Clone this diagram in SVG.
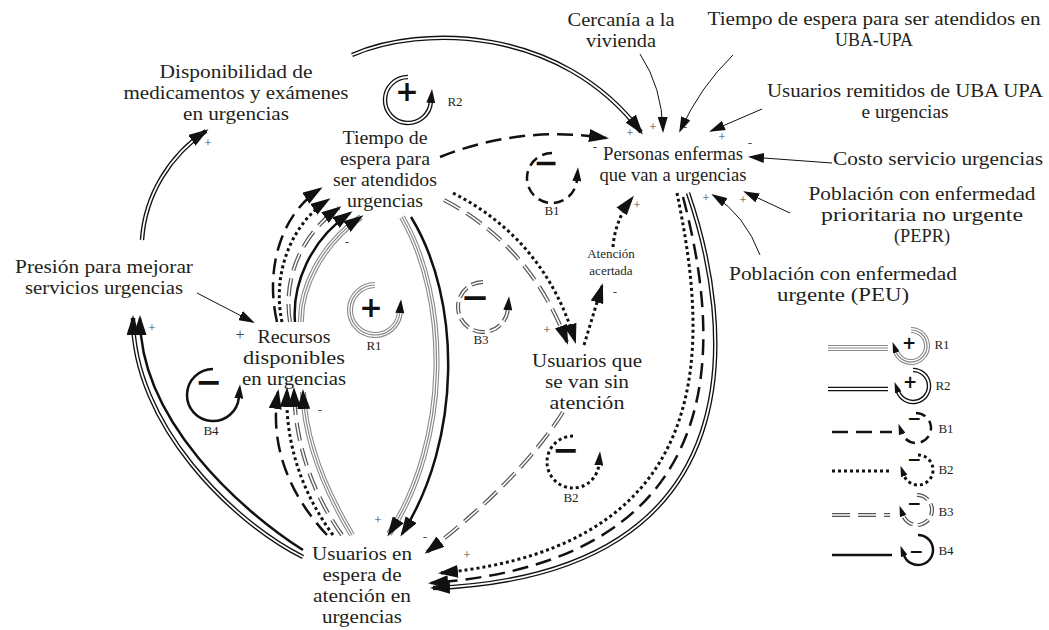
<svg xmlns="http://www.w3.org/2000/svg" width="1049" height="630" viewBox="0 0 1049 630">
<style>
.t{font-family:"Liberation Serif",serif;fill:#231f20;text-anchor:middle;font-size:18.9px}
.f13{font-size:13px}
.pol{font-family:"Liberation Serif",serif;font-size:13px;fill:#444;text-anchor:middle}
.sg{font-family:"DejaVu Sans",sans-serif;font-weight:bold;text-anchor:middle;dominant-baseline:central;fill:#111}
.ln{fill:none}
.r2o{stroke:#111;stroke-width:4.5}
.r2i{stroke:#fff;stroke-width:1.8}
.r1o{stroke:#888;stroke-width:6}
.r1m{stroke:#fff;stroke-width:3.8}
.r1i{stroke:#888;stroke-width:1.2}
.b3o{stroke:#555;stroke-width:4;stroke-dasharray:18 8}
.b3i{stroke:#fff;stroke-width:1.6;stroke-dasharray:18 8}
.b1{stroke:#111;stroke-width:2.5;stroke-dasharray:16 8}
.b2{stroke:#111;stroke-width:3;stroke-dasharray:3 3}
.b4{stroke:#111;stroke-width:2.5}
.ex{stroke:#111;stroke-width:1}
.ld1{stroke-dasharray:10 6}
.ld3{stroke-dasharray:12 5}
</style>
<defs>
<marker id="ah" markerUnits="userSpaceOnUse" markerWidth="20" markerHeight="13" viewBox="0 0 20 13" refX="17" refY="6.5" orient="auto"><path d="M0,0 L20,6.5 L0,13 z" fill="#111"/></marker>
<marker id="as" markerUnits="userSpaceOnUse" markerWidth="16" markerHeight="10" viewBox="0 0 16 10" refX="14" refY="5" orient="auto"><path d="M0,0 L16,5 L0,10 z" fill="#111"/></marker>
<marker id="al" markerUnits="userSpaceOnUse" markerWidth="14" markerHeight="9" viewBox="0 0 14 9" refX="1" refY="4.5" orient="auto"><path d="M0,0 L14,4.5 L0,9 z" fill="#111"/></marker>
<marker id="alg" markerUnits="userSpaceOnUse" markerWidth="11" markerHeight="7" viewBox="0 0 11 7" refX="1" refY="3.5" orient="auto"><path d="M0,0 L11,3.5 L0,7 z" fill="#111"/></marker>
<path id="e1" d="M197,293 L253,322"/>
<path id="e2" d="M640,54 Q662,87 663,131"/>
<path id="e3" d="M733,55 Q700,87 680,131"/>
<path id="e4" d="M762,109 L711,131"/>
<path id="e5" d="M832,163 L750,157"/>
<path id="e6" d="M790,213 L745,192"/>
<path id="e7" d="M760,255 Q745,215 713,195"/>
<path id="c1" d="M142,240 C145,195 170,155 206,131"/>
<path id="c2" d="M352,55 C420,25 560,25 641,132"/>
<path id="c3" d="M440,157 Q520,125 606,138"/>
<path id="c4" d="M453,193 Q545,240 575,341"/>
<path id="c5" d="M444,200 Q530,245 567,342"/>
<path id="c6" d="M584,345 L602,286"/>
<path id="c7" d="M613,247 Q615,220 632,198"/>
<path id="c8" d="M563,412 Q520,480 427,552"/>
<path id="c9" d="M677,193 C705,330 730,545 441,573"/>
<path id="c10" d="M683,197 C718,330 745,560 431,583"/>
<path id="c11" d="M688,193 C732,320 765,575 433,588"/>
<path id="c12" d="M402,217 C450,300 450,440 389,534"/>
<path id="c13" d="M411,217 C462,300 462,440 402,534"/>
<path id="c14" d="M277,322 C265,270 280,215 320,189"/>
<path id="c15" d="M282,322 C272,275 290,225 328,200"/>
<path id="c16" d="M290,322 C283,280 300,235 339,208"/>
<path id="c17" d="M295,322 C292,285 310,240 350,213"/>
<path id="c18" d="M301,322 C300,290 320,245 361,217"/>
<path id="c19" d="M327,535 C285,490 270,440 278,392"/>
<path id="c20" d="M333,535 C300,490 285,440 287,390"/>
<path id="c21" d="M342,535 C310,490 295,440 294,390"/>
<path id="c22" d="M352,535 C325,490 305,440 303,392"/>
<path id="c23" d="M303,550 C240,510 140,420 140,318"/>
<path id="c24" d="M303,557 C233,522 133,425 133,318"/>
<path id="lR2" d="M408,77 A23,23 0 1 0 430.9,102"/>
<path id="lR1" d="M375,285 A25,25 0 1 0 399.9,312.2"/>
<path id="lB1" d="M552,153 A25,25 0 1 0 576.9,180.2"/>
<path id="lB3" d="M483,282 A25,25 0 1 0 507.9,309.2"/>
<path id="lB4" d="M213,369 A26,26 0 1 0 238.9,397.3"/>
<path id="lB2" d="M573,436 A26,26 0 1 0 598.9,464.3"/>
<path id="gR1" d="M911,330 A16,16 0 1 1 896,351.5"/>
<path id="gR2" d="M913,370 A16,16 0 1 1 898,391.5"/>
<path id="gB1" d="M916,413 A15,15 0 1 1 901.9,433.1"/>
<path id="gB2" d="M918,455 A15,15 0 1 1 903.9,475.1"/>
<path id="gB3" d="M917,495 A15,15 0 1 1 902.9,515.1"/>
<path id="gB4" d="M918,535 A15,15 0 1 1 903.9,555.1"/>
</defs>
<rect width="1049" height="630" fill="#fff"/>

<g id="connectors">
<use href="#e1" class="ln ex" marker-end="url(#as)"/>
<use href="#e2" class="ln ex" marker-end="url(#as)"/>
<use href="#e3" class="ln ex" marker-end="url(#as)"/>
<use href="#e4" class="ln ex" marker-end="url(#as)"/>
<use href="#e5" class="ln ex" marker-end="url(#as)"/>
<use href="#e6" class="ln ex" marker-end="url(#as)"/>
<use href="#e7" class="ln ex" marker-end="url(#as)"/>
<use href="#c1" class="ln r2o"/><use href="#c1" class="ln r2i" marker-end="url(#ah)"/>
<use href="#c2" class="ln r2o"/><use href="#c2" class="ln r2i" marker-end="url(#ah)"/>
<use href="#c3" class="ln b1" marker-end="url(#ah)"/>
<use href="#c4" class="ln b2" marker-end="url(#ah)"/>
<use href="#c5" class="ln b3o"/><use href="#c5" class="ln b3i" marker-end="url(#ah)"/>
<use href="#c6" class="ln b2" marker-end="url(#ah)"/>
<use href="#c7" class="ln b2" marker-end="url(#ah)"/>
<use href="#c8" class="ln b3o"/><use href="#c8" class="ln b3i" marker-end="url(#ah)"/>
<use href="#c9" class="ln b2" marker-end="url(#ah)"/>
<use href="#c10" class="ln b1" marker-end="url(#ah)"/>
<use href="#c11" class="ln r2o"/><use href="#c11" class="ln r2i" marker-end="url(#ah)"/>
<use href="#c12" class="ln r1o"/><use href="#c12" class="ln r1m"/><use href="#c12" class="ln r1i" marker-end="url(#ah)"/>
<use href="#c13" class="ln b4" marker-end="url(#ah)"/>
<use href="#c14" class="ln b1" marker-end="url(#ah)"/>
<use href="#c15" class="ln b2" marker-end="url(#ah)"/>
<use href="#c16" class="ln b3o"/><use href="#c16" class="ln b3i" marker-end="url(#ah)"/>
<use href="#c17" class="ln b4" marker-end="url(#ah)"/>
<use href="#c18" class="ln r1o"/><use href="#c18" class="ln r1m"/><use href="#c18" class="ln r1i" marker-end="url(#ah)"/>
<use href="#c19" class="ln b1" marker-end="url(#ah)"/>
<use href="#c20" class="ln b2" marker-end="url(#ah)"/>
<use href="#c21" class="ln b3o"/><use href="#c21" class="ln b3i" marker-end="url(#ah)"/>
<use href="#c22" class="ln r1o"/><use href="#c22" class="ln r1m"/><use href="#c22" class="ln r1i" marker-end="url(#ah)"/>
<use href="#c23" class="ln b4" marker-end="url(#ah)"/>
<use href="#c24" class="ln r2o"/><use href="#c24" class="ln r2i" marker-end="url(#ah)"/>
</g>

<g id="polarities" opacity="0.99">
<text class="pol" x="208" y="147">+</text>
<text class="pol" x="630" y="137">+</text>
<text class="pol" x="653" y="131">+</text>
<text class="pol" x="685" y="131">-</text>
<text class="pol" x="722" y="141">+</text>
<text class="pol" x="750" y="147">-</text>
<text class="pol" x="743" y="204">+</text>
<text class="pol" x="706" y="202">+</text>
<text class="pol" x="595" y="151">-</text>
<text class="pol" x="637" y="209">+</text>
<text class="pol" x="615" y="296">-</text>
<text class="pol" x="547" y="334">+</text>
<text class="pol" x="425" y="541">-</text>
<text class="pol" x="467" y="559">+</text>
<text class="pol" x="378" y="524">+</text>
<text class="pol" x="320" y="414">-</text>
<text class="pol" x="347" y="246">-</text>
<text class="pol" x="152" y="332">+</text>
<text class="pol" x="240" y="340" style="font-size:16px">+</text>
</g>

<g id="node-disponibilidad">
<text class="t" x="236" y="78" textLength="153" lengthAdjust="spacingAndGlyphs">Disponibilidad de</text>
<text class="t" x="236" y="99" textLength="225" lengthAdjust="spacingAndGlyphs">medicamentos y exámenes</text>
<text class="t" x="236" y="120" textLength="106" lengthAdjust="spacingAndGlyphs">en urgencias</text>
</g>
<g id="node-presion">
<text class="t" x="104" y="273" textLength="178" lengthAdjust="spacingAndGlyphs">Presión para mejorar</text>
<text class="t" x="104" y="294" textLength="158" lengthAdjust="spacingAndGlyphs">servicios urgencias</text>
</g>
<g id="node-tiempo">
<text class="t" x="385" y="144" textLength="85" lengthAdjust="spacingAndGlyphs">Tiempo de</text>
<text class="t" x="385" y="165" textLength="90" lengthAdjust="spacingAndGlyphs">espera para</text>
<text class="t" x="385" y="186" textLength="104" lengthAdjust="spacingAndGlyphs">ser atendidos</text>
<text class="t" x="385" y="207" textLength="76" lengthAdjust="spacingAndGlyphs">urgencias</text>
</g>
<g id="node-personas">
<text class="t" x="673" y="160" textLength="140" lengthAdjust="spacingAndGlyphs">Personas enfermas</text>
<text class="t" x="673" y="181" textLength="147" lengthAdjust="spacingAndGlyphs">que van a urgencias</text>
</g>
<g id="node-recursos">
<text class="t" x="294" y="343" textLength="73" lengthAdjust="spacingAndGlyphs">Recursos</text>
<text class="t" x="294" y="364" textLength="102" lengthAdjust="spacingAndGlyphs">disponibles</text>
<text class="t" x="294" y="385" textLength="104" lengthAdjust="spacingAndGlyphs">en urgencias</text>
</g>
<g id="node-usuarios-sin-atencion">
<text class="t" x="587" y="367" textLength="110" lengthAdjust="spacingAndGlyphs">Usuarios que</text>
<text class="t" x="587" y="388" textLength="84" lengthAdjust="spacingAndGlyphs">se van sin</text>
<text class="t" x="587" y="409" textLength="75" lengthAdjust="spacingAndGlyphs">atención</text>
</g>
<g id="node-usuarios-espera">
<text class="t" x="362" y="560" textLength="100" lengthAdjust="spacingAndGlyphs">Usuarios en</text>
<text class="t" x="362" y="581" textLength="79" lengthAdjust="spacingAndGlyphs">espera de</text>
<text class="t" x="362" y="602" textLength="98" lengthAdjust="spacingAndGlyphs">atención en</text>
<text class="t" x="362" y="623" textLength="80" lengthAdjust="spacingAndGlyphs">urgencias</text>
</g>
<g id="node-cercania">
<text class="t" x="621" y="26" textLength="107" lengthAdjust="spacingAndGlyphs">Cercanía a la</text>
<text class="t" x="621" y="47" textLength="70" lengthAdjust="spacingAndGlyphs">vivienda</text>
</g>
<g id="node-tiempo-uba">
<text class="t" x="874" y="25" textLength="333" lengthAdjust="spacingAndGlyphs">Tiempo de espera para ser atendidos en</text>
<text class="t" x="874" y="46" textLength="78" lengthAdjust="spacingAndGlyphs">UBA-UPA</text>
</g>
<g id="node-remitidos">
<text class="t" x="905" y="97" textLength="276" lengthAdjust="spacingAndGlyphs">Usuarios remitidos de UBA UPA</text>
<text class="t" x="905" y="118" textLength="87" lengthAdjust="spacingAndGlyphs">e urgencias</text>
</g>
<g id="node-costo">
<text class="t" x="938" y="165" textLength="210" lengthAdjust="spacingAndGlyphs">Costo servicio urgencias</text>
</g>
<g id="node-pepr">
<text class="t" x="922" y="200" textLength="227" lengthAdjust="spacingAndGlyphs">Población con enfermedad</text>
<text class="t" x="922" y="221" textLength="202" lengthAdjust="spacingAndGlyphs">prioritaria no urgente</text>
<text class="t" x="922" y="242" textLength="56" lengthAdjust="spacingAndGlyphs">(PEPR)</text>
</g>
<g id="node-peu">
<text class="t" x="843" y="280" textLength="228" lengthAdjust="spacingAndGlyphs">Población con enfermedad</text>
<text class="t" x="843" y="301" textLength="132" lengthAdjust="spacingAndGlyphs">urgente (PEU)</text>
</g>
<g id="node-atencion">
<text class="t f13" x="611" y="258">Atención</text>
<text class="t f13" x="611" y="275">acertada</text>
</g>

<g id="loop-R2"><use href="#lR2" class="ln r2o"/><use href="#lR2" class="ln r2i" marker-end="url(#al)"/><text class="sg" x="407" y="91" font-size="28">+</text><text class="t f13" x="455" y="106">R2</text></g>
<g id="loop-R1"><use href="#lR1" class="ln r1o"/><use href="#lR1" class="ln r1m"/><use href="#lR1" class="ln r1i" marker-end="url(#al)"/><text class="sg" x="371" y="307" font-size="28">+</text><text class="t f13" x="374" y="350">R1</text></g>
<g id="loop-B1"><use href="#lB1" class="ln b1 ld1" marker-end="url(#al)"/><text class="sg" x="546" y="162" font-size="30">−</text><text class="t f13" x="552" y="215">B1</text></g>
<g id="loop-B3"><use href="#lB3" class="ln b3o ld3"/><use href="#lB3" class="ln b3i ld3" marker-end="url(#al)"/><text class="sg" x="475" y="297" font-size="34">−</text><text class="t f13" x="481" y="344">B3</text></g>
<g id="loop-B4"><use href="#lB4" class="ln b4" marker-end="url(#al)"/><text class="sg" x="209" y="382" font-size="32">−</text><text class="t f13" x="211" y="435">B4</text></g>
<g id="loop-B2"><use href="#lB2" class="ln b2" marker-end="url(#al)"/><text class="sg" x="566" y="450" font-size="32">−</text><text class="t f13" x="571" y="502">B2</text></g>

<g id="legend">
<line x1="828" y1="348" x2="888" y2="348" class="r1o"/><line x1="828" y1="348" x2="888" y2="348" class="r1m"/><line x1="828" y1="348" x2="888" y2="348" class="r1i"/>
<use href="#gR1" class="ln r1o"/><use href="#gR1" class="ln r1m"/><use href="#gR1" class="ln r1i" marker-end="url(#alg)"/>
<text class="sg" x="909" y="343" font-size="17">+</text><text class="t f13" x="942" y="349">R1</text>
<line x1="828" y1="389" x2="888" y2="389" class="r2o"/><line x1="828" y1="389" x2="888" y2="389" class="r2i"/>
<use href="#gR2" class="ln r2o"/><use href="#gR2" class="ln r2i" marker-end="url(#alg)"/>
<text class="sg" x="910" y="382" font-size="17">+</text><text class="t f13" x="943" y="390">R2</text>
<line x1="832" y1="432" x2="892" y2="432" class="b1"/>
<use href="#gB1" class="ln b1 ld1" marker-end="url(#alg)"/>
<text class="sg" x="914" y="418" font-size="17">−</text><text class="t f13" x="946" y="433">B1</text>
<line x1="832" y1="471" x2="892" y2="471" class="b2"/>
<use href="#gB2" class="ln b2" marker-end="url(#alg)"/>
<text class="sg" x="914" y="459" font-size="17">−</text><text class="t f13" x="946" y="474">B2</text>
<line x1="832" y1="515" x2="890" y2="515" class="b3o"/><line x1="832" y1="515" x2="890" y2="515" class="b3i"/>
<use href="#gB3" class="ln b3o ld3"/><use href="#gB3" class="ln b3i ld3" marker-end="url(#alg)"/>
<text class="sg" x="914" y="503" font-size="17">−</text><text class="t f13" x="946" y="516">B3</text>
<line x1="832" y1="555" x2="892" y2="555" class="b4"/>
<use href="#gB4" class="ln b4" marker-end="url(#alg)"/>
<text class="sg" x="916" y="551" font-size="17">−</text><text class="t f13" x="946" y="555">B4</text>
</g>
</svg>
